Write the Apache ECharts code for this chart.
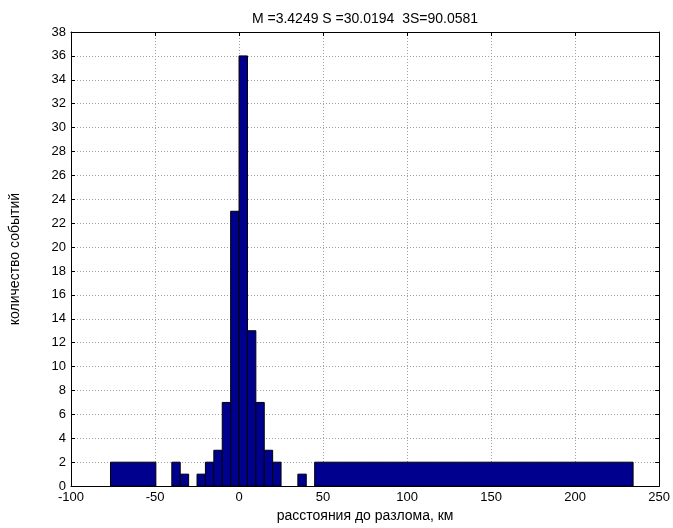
<!DOCTYPE html>
<html>
<head>
<meta charset="utf-8">
<script src="https://cdn.jsdelivr.net/npm/echarts@6/dist/echarts.min.js"></script>
<style>
  html, body { margin: 0; padding: 0; background: #fff; }
  #hist { width: 673px; height: 528px; }
</style>
</head>
<body>
<div id="hist"></div>
<script>
// histogram bins (left edge, right edge, count)
var binLeft  = [-76.5, -40, -35, -25, -20, -15, -10, -5, 0, 5, 10, 15, 20, 35, 45];
var binRight = [-49.5, -35, -30, -20, -15, -10, -5, 0, 5, 10, 15, 20, 25, 40, 234.5];
var counts   = [2, 2, 1, 1, 2, 3, 7, 23, 36, 13, 7, 3, 2, 1, 2];

var titleText = 'M =3.4249 S =30.0194  3S=90.0581';
var xName = 'расстояния до разлома, км';
var yName = 'количество событий';

var data = [];
for (var i = 0; i < counts.length; i++) {
    data.push([binLeft[i], binRight[i], counts[i]]);
}

var myChart = echarts.init(document.getElementById('hist'));

var font = 'Liberation Sans, Arial, sans-serif';
var gridLine = { show: true, lineStyle: { color: '#a0a0a0', type: [1, 2], width: 1 } };
var tick = { show: true, inside: true, length: 4, lineStyle: { color: '#000' } };
var line = { show: true, onZero: false, lineStyle: { color: '#000' } };

var option = {
    animation: false,
    graphic: [{
        type: 'text',
        x: 365,
        y: 19,
        style: {
            text: titleText,
            align: 'center',
            verticalAlign: 'middle',
            fontSize: 14,
            fontFamily: font,
            fill: '#000'
        }
    }],
    grid: { left: 70, right: 13, top: 32, bottom: 37 },
    xAxis: [
        {
            type: 'value', min: -100, max: 250, interval: 50,
            name: xName, nameLocation: 'middle', nameGap: 22,
            nameTextStyle: { fontSize: 14, color: '#000', fontFamily: font },
            axisLine: line,
            axisTick: tick,
            axisLabel: { fontSize: 13, color: '#000', fontFamily: font, margin: 5 },
            splitLine: gridLine
        },
        {
            type: 'value', min: -100, max: 250, interval: 50, position: 'top',
            axisLine: line,
            axisTick: tick,
            axisLabel: { show: false },
            splitLine: { show: false }
        }
    ],
    yAxis: [
        {
            type: 'value', min: 0, max: 38, interval: 2,
            name: yName, nameLocation: 'middle', nameGap: 49,
            nameTextStyle: { fontSize: 14, color: '#000', fontFamily: font },
            axisLine: line,
            axisTick: tick,
            axisLabel: { fontSize: 13, color: '#000', fontFamily: font, margin: 5 },
            splitLine: gridLine
        },
        {
            type: 'value', min: 0, max: 38, interval: 2, position: 'right',
            axisLine: line,
            axisTick: tick,
            axisLabel: { show: false },
            splitLine: { show: false }
        }
    ],
    series: [
        {
            type: 'custom',
            xAxisIndex: 0,
            yAxisIndex: 0,
            encode: { x: [0, 1], y: 2 },
            data: data,
            renderItem: function (params, api) {
                var p0 = api.coord([api.value(0), api.value(2)]);
                var p1 = api.coord([api.value(1), 0]);
                return {
                    type: 'rect',
                    shape: { x: p0[0], y: p0[1], width: p1[0] - p0[0], height: p1[1] - p0[1] },
                    style: { fill: '#00008f', stroke: '#000', lineWidth: 1 }
                };
            }
        }
    ]
};

myChart.setOption(option);
</script>
</body>
</html>
